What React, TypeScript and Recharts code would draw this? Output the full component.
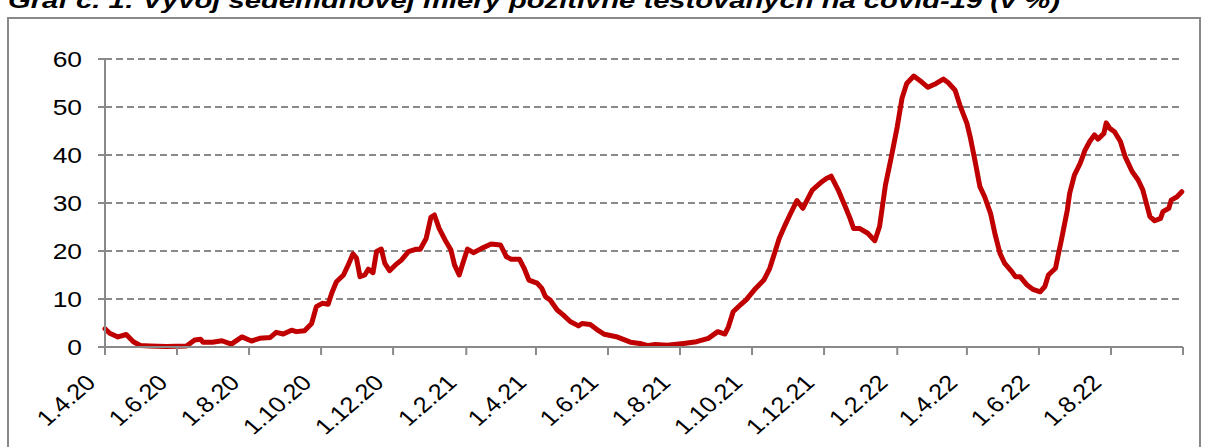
import React from "react";
import {LineChart, Line, XAxis, YAxis, CartesianGrid} from "recharts";

// days since 1.4.2020 and the 7-day positivity rate (%)
const dayOffsets = [
  0, 4, 11, 18, 24, 30, 38, 52, 69, 76, 81, 83, 91, 99, 107, 116, 124, 131,
  140, 145, 151, 158, 162, 169, 175, 179, 184, 189, 192, 196, 202, 206, 210,
  213, 216, 220, 223, 227, 230, 234, 237, 241, 246, 251, 257, 263, 267, 272,
  276, 279, 283, 288, 293, 296, 300, 303, 307, 312, 319, 327, 335, 340, 344,
  351, 355, 359, 366, 370, 373, 377, 383, 388, 394, 401, 404, 411, 418, 423,
  433, 445, 453, 460, 466, 476, 490, 501, 511, 519, 525, 528, 532, 538, 543,
  551, 558, 563, 567, 571, 576, 580, 586, 591, 599, 606, 611, 615, 621, 627,
  631, 634, 639, 646, 652, 656, 661, 666, 671, 675, 679, 685, 692, 697, 704,
  710, 714, 720, 724, 730, 733, 737, 741, 745, 750, 754, 758, 762, 768, 771,
  775, 781, 786, 792, 796, 799, 805, 807, 810, 815, 817, 821, 826, 830, 834,
  838, 841, 846, 848, 851, 855, 860, 864, 870, 875, 879, 882, 885, 889, 894,
  896, 901, 903, 908, 912,
];

const positivity = [
  3.8, 2.85, 2.1, 2.6, 1.1, 0.3, 0.2, 0.1, 0.2, 1.45, 1.6, 1.0, 1.0, 1.3, 0.6,
  2.1, 1.25, 1.8, 2.0, 3.05, 2.7, 3.5, 3.2, 3.4, 4.9, 8.4, 9.1, 8.9, 11.2,
  13.6, 15.0, 17.1, 19.4, 18.5, 14.65, 15.0, 16.2, 15.5, 19.9, 20.4, 17.4,
  15.9, 17.1, 18.1, 19.85, 20.35, 20.35, 22.6, 27.0, 27.5, 24.7, 22.3, 20.2,
  17.1, 15.0, 17.4, 20.4, 19.65, 20.55, 21.45, 21.25, 18.8, 18.3, 18.3, 16.4,
  13.95, 13.3, 12.2, 10.5, 9.8, 7.7, 6.7, 5.3, 4.4, 4.9, 4.7, 3.4, 2.65, 2.15,
  1.0, 0.75, 0.3, 0.5, 0.35, 0.75, 1.1, 1.8, 3.2, 2.7, 4.2, 7.35, 8.75, 9.8,
  12.2, 13.95, 16.4, 19.5, 22.6, 25.4, 27.5, 30.5, 28.9, 32.7, 34.2, 35.1,
  35.6, 32.7, 29.2, 26.8, 24.7, 24.7, 23.7, 22.15, 25.1, 33.75, 39.65, 45.9,
  51.8, 54.9, 56.45, 55.15, 54.1, 54.9, 55.8, 55.1, 53.5, 50.4, 46.6, 43.5,
  38.6, 33.4, 31.3, 27.85, 23.3, 19.5, 17.4, 15.7, 14.65, 14.65, 12.9, 12.0,
  11.5, 12.6, 15.0, 16.4, 18.8, 22.3, 28.5, 32.0, 35.8, 38.3, 41.0, 42.8,
  44.2, 43.3, 44.5, 46.7, 45.55, 44.85, 42.8, 39.65, 36.5, 34.8, 32.7, 29.9,
  27.15, 26.3, 26.8, 28.2, 28.9, 30.6, 31.3, 32.35,
];

const xTickLabels = [
  "1.4.20", "1.6.20", "1.8.20", "1.10.20", "1.12.20", "1.2.21", "1.4.21",
  "1.6.21", "1.8.21", "1.10.21", "1.12.21", "1.2.22", "1.4.22", "1.6.22",
  "1.8.22", "1.10.22",
];
const yTicks = [0, 10, 20, 30, 40, 50, 60];

const title =
  "Graf č. 1: Vývoj sedemdňovej miery pozitívne testovaných na covid-19 (v %)";

const DAY = 86400000;
const START = Date.UTC(2020, 3, 1);
function toDay(label: string) {
  const [d, m, y] = label.split(".").map(Number);
  return Math.round((Date.UTC(2000 + y, m - 1, d) - START) / DAY);
}
const xTicks = xTickLabels.map(toDay);
const lastTick = xTicks[xTicks.length - 1];

const data = dayOffsets.map((day, i) => ({day, value: positivity[i]}));

const FONT = "'Liberation Sans', Arial, sans-serif";
const GRAY = "#898989";

function YTick({x, y, payload}: any) {
  return (
    <g transform={`translate(${x},${y}) scale(1.2,1)`}>
      <text
        x={0}
        y={0}
        dy="0.36em"
        textAnchor="end"
        fontFamily={FONT}
        fontSize={22}
        fill="#000"
      >
        {payload.value}
      </text>
    </g>
  );
}

function XTick({x, y, payload}: any) {
  const idx = xTicks.indexOf(payload.value);
  // last tick at the end of the axis has no label
  if (idx < 0 || payload.value === lastTick) return null;
  return (
    <g transform={`translate(${x - 8},${y + 29})`}>
      <text
        transform="scale(1.15,1) rotate(-45)"
        textAnchor="end"
        fontFamily={FONT}
        fontSize={22}
        fill="#000"
      >
        {xTickLabels[idx]}
      </text>
    </g>
  );
}

export default function App() {
  return (
    <div
      style={{
        position: "absolute",
        left: 0,
        top: 0,
        width: 1205,
        height: 447,
        background: "#fff",
        overflow: "hidden",
      }}
    >
      <svg
        width={1205}
        height={447}
        style={{position: "absolute", left: 0, top: 0}}
      >
        <text
          x={8}
          y={8}
          textLength={1052}
          lengthAdjust="spacingAndGlyphs"
          fontFamily={FONT}
          fontSize={22}
          fontWeight="bold"
          fontStyle="italic"
          fill="#000"
        >
          {title}
        </text>
        <rect
          x={8}
          y={18}
          width={1192}
          height={450}
          fill="none"
          stroke={GRAY}
          strokeWidth={2}
        />
      </svg>
      <div style={{position: "absolute", left: 0, top: 0}}>
        <LineChart
          width={1205}
          height={447}
          data={data}
          margin={{top: 59, right: 22, bottom: 0, left: 0}}
        >
          <CartesianGrid
            horizontal
            vertical={false}
            stroke={GRAY}
            strokeWidth={2}
            strokeDasharray="7 4"
          />
          <XAxis
            dataKey="day"
            type="number"
            domain={[0, lastTick]}
            ticks={xTicks}
            interval={0}
            height={100}
            tickSize={8}
            tickMargin={0}
            axisLine={{stroke: GRAY, strokeWidth: 2}}
            tickLine={{stroke: GRAY, strokeWidth: 2}}
            tick={<XTick />}
          />
          <YAxis
            type="number"
            domain={[0, 60]}
            ticks={yTicks}
            interval={0}
            width={105}
            tickSize={7}
            tickMargin={16}
            axisLine={{stroke: GRAY, strokeWidth: 2}}
            tickLine={{stroke: GRAY, strokeWidth: 2}}
            tick={<YTick />}
          />
          <Line
            type="linear"
            dataKey="value"
            stroke="#c00000"
            strokeWidth={5}
            strokeLinejoin="round"
            strokeLinecap="round"
            dot={false}
            isAnimationActive={false}
          />
        </LineChart>
      </div>
    </div>
  );
}
